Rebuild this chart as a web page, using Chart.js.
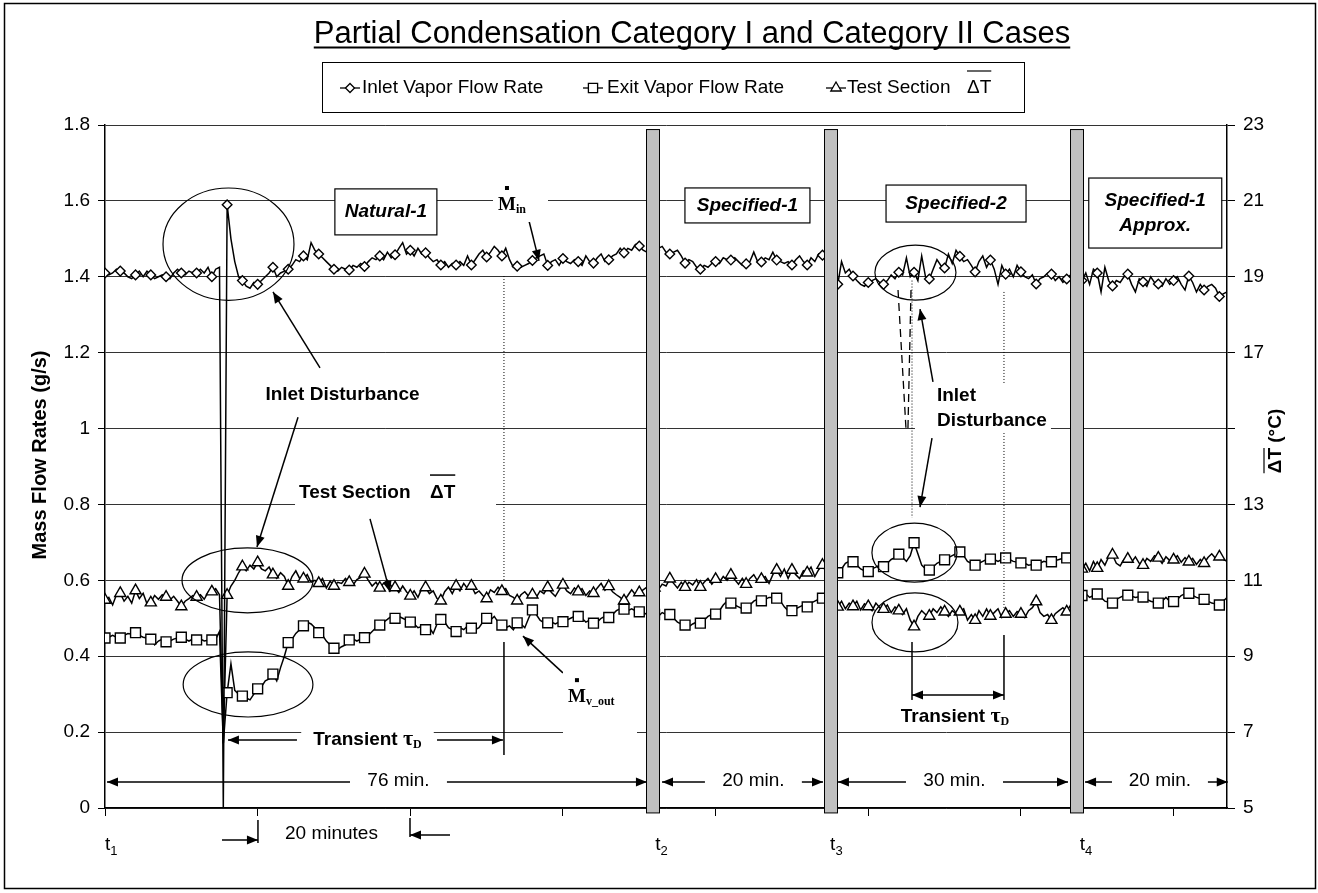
<!DOCTYPE html>
<html>
<head>
<meta charset="utf-8">
<title>Partial Condensation Category I and Category II Cases</title>
<script src="https://cdn.jsdelivr.net/npm/chart.js@4/dist/chart.umd.min.js"></script>
<style>
  html, body { margin: 0; padding: 0; background: #fff; }
  #wrap { width: 1318px; height: 893px; }
</style>
</head>
<body>
<div id="wrap"><canvas id="chart" width="1318" height="893"></canvas></div>
<script>
"use strict";

const SAMPLE_STEP = 0.5;   // minutes between readings
const MARK_EVERY = 4;      // a marker every 2 minutes

const chartTitle = "Partial Condensation Category I and Category II Cases";
const seriesNames = ["Inlet Vapor Flow Rate", "Exit Vapor Flow Rate", "Test Section"];
const flowTicks = ["0", "0.2", "0.4", "0.6", "0.8", "1", "1.2", "1.4", "1.6", "1.8"];
const deltaTTicks = ["5", "7", "9", "11", "13", "", "17", "19", "21", "23"];

// inlet vapor flow rate (g/s), one row per 2 minutes
const inletFlow = [
    1.41, 1.405, 1.41, 1.42,
    1.415, 1.41, 1.40, 1.395,
    1.405, 1.415, 1.40, 1.415,
    1.405, 1.395, 1.40, 1.405,
    1.40, 1.395, 1.41, 1.42,
    1.41, 1.405, 1.415, 1.41,
    1.41, 1.42, 1.41, 1.425,
    1.40, 1.42, 1.425, 0.0,
    1.59, 1.50, 1.44, 1.40,
    1.39, 1.375, 1.37, 1.385,
    1.38, 1.39, 1.40, 1.41,
    1.425, 1.40, 1.41, 1.415,
    1.42, 1.43, 1.445, 1.44,
    1.455, 1.445, 1.49, 1.47,
    1.46, 1.45, 1.44, 1.43,
    1.42, 1.415, 1.425, 1.42,
    1.418, 1.43, 1.425, 1.435,
    1.427, 1.44, 1.45, 1.445,
    1.455, 1.445, 1.465, 1.45,
    1.458, 1.475, 1.49, 1.46,
    1.47, 1.455, 1.475, 1.46,
    1.463, 1.45, 1.44, 1.445,
    1.431, 1.44, 1.425, 1.435,
    1.431, 1.44, 1.43, 1.455,
    1.431, 1.445, 1.46, 1.47,
    1.452, 1.465, 1.48, 1.47,
    1.455, 1.475, 1.445, 1.425,
    1.428, 1.425, 1.43, 1.435,
    1.443, 1.45, 1.455, 1.46,
    1.43, 1.44, 1.445, 1.43,
    1.448, 1.44, 1.435, 1.445,
    1.44, 1.43, 1.455, 1.44,
    1.436, 1.45, 1.46, 1.44,
    1.445, 1.455, 1.46, 1.475,
    1.463, 1.475, 1.47, 1.485,
    1.481, 1.47, 1.465, 1.47,
    1.47, 1.475, 1.48, 1.465,
    1.46, 1.465, 1.47, 1.455,
    1.436, 1.445, 1.44, 1.425,
    1.42, 1.43, 1.425, 1.435,
    1.44, 1.435, 1.45, 1.445,
    1.444, 1.45, 1.44, 1.43,
    1.434, 1.44, 1.465, 1.44,
    1.439, 1.45, 1.445, 1.465,
    1.444, 1.44, 1.435, 1.44,
    1.431, 1.445, 1.455, 1.44,
    1.431, 1.45, 1.44, 1.46,
    1.457, 1.445, 1.45, 1.44,
    1.38, 1.44, 1.41, 1.42,
    1.402, 1.39, 1.38, 1.375,
    1.385, 1.39, 1.395, 1.385,
    1.38, 1.39, 1.405, 1.395,
    1.412, 1.405, 1.45, 1.40,
    1.412, 1.39, 1.455, 1.40,
    1.394, 1.42, 1.445, 1.43,
    1.423, 1.46, 1.435, 1.47,
    1.454, 1.44, 1.445, 1.43,
    1.413, 1.44, 1.455, 1.425,
    1.444, 1.42, 1.38, 1.43,
    1.407, 1.42, 1.40, 1.43,
    1.413, 1.40, 1.395, 1.405,
    1.381, 1.395, 1.40, 1.41,
    1.407, 1.39, 1.40, 1.385,
    1.394, 1.405, 1.39, 1.40,
    1.39, 1.41, 1.38, 1.42,
    1.41, 1.36, 1.425, 1.39,
    1.376, 1.39, 1.385, 1.40,
    1.407, 1.38, 1.36, 1.395,
    1.387, 1.375, 1.40, 1.385,
    1.381, 1.375, 1.395, 1.38,
    1.39, 1.40, 1.38, 1.365,
    1.402, 1.385, 1.36, 1.38,
    1.365, 1.375, 1.38, 1.37,
    1.348, 1.355, 1.36
];

// exit vapor flow rate (g/s)
const exitFlow = [
    0.448, 0.45, 0.455, 0.45,
    0.448, 0.455, 0.46, 0.458,
    0.462, 0.455, 0.45, 0.448,
    0.445, 0.43, 0.44, 0.445,
    0.438, 0.44, 0.445, 0.448,
    0.45, 0.445, 0.44, 0.445,
    0.443, 0.445, 0.44, 0.442,
    0.443, 0.445, 0.465, 0.17,
    0.304, 0.38, 0.31, 0.30,
    0.295, 0.29, 0.285, 0.30,
    0.314, 0.32, 0.335, 0.34,
    0.353, 0.335, 0.37, 0.40,
    0.436, 0.445, 0.46, 0.47,
    0.48, 0.49, 0.485, 0.475,
    0.462, 0.455, 0.44, 0.43,
    0.421, 0.418, 0.425, 0.43,
    0.443, 0.445, 0.44, 0.445,
    0.449, 0.455, 0.465, 0.475,
    0.482, 0.49, 0.497, 0.505,
    0.50, 0.505, 0.50, 0.495,
    0.49, 0.485, 0.475, 0.478,
    0.47, 0.475, 0.46, 0.485,
    0.497, 0.49, 0.475, 0.47,
    0.465, 0.475, 0.47, 0.48,
    0.474, 0.47, 0.475, 0.49,
    0.50, 0.495, 0.505, 0.49,
    0.482, 0.475, 0.48, 0.47,
    0.488, 0.485, 0.475, 0.50,
    0.522, 0.51, 0.495, 0.488,
    0.488, 0.49, 0.485, 0.49,
    0.491, 0.495, 0.50, 0.505,
    0.505, 0.50, 0.49, 0.495,
    0.487, 0.49, 0.50, 0.505,
    0.502, 0.51, 0.52, 0.525,
    0.524, 0.52, 0.525, 0.52,
    0.517, 0.515, 0.51, 0.515,
    0.51, 0.505, 0.515, 0.51,
    0.51, 0.50, 0.49, 0.485,
    0.482, 0.478, 0.485, 0.49,
    0.487, 0.495, 0.505, 0.51,
    0.511, 0.52, 0.535, 0.545,
    0.54, 0.535, 0.53, 0.525,
    0.527, 0.535, 0.545, 0.55,
    0.546, 0.55, 0.555, 0.555,
    0.553, 0.545, 0.53, 0.52,
    0.52, 0.525, 0.53, 0.535,
    0.53, 0.54, 0.545, 0.55,
    0.553, 0.57, 0.59, 0.61,
    0.62, 0.63, 0.645, 0.65,
    0.649, 0.64, 0.63, 0.625,
    0.623, 0.63, 0.635, 0.64,
    0.636, 0.645, 0.655, 0.66,
    0.669, 0.66, 0.65, 0.665,
    0.699, 0.67, 0.64, 0.63,
    0.627, 0.635, 0.645, 0.65,
    0.654, 0.66, 0.665, 0.67,
    0.675, 0.665, 0.65, 0.645,
    0.64, 0.645, 0.65, 0.655,
    0.656, 0.655, 0.65, 0.655,
    0.659, 0.655, 0.65, 0.648,
    0.646, 0.645, 0.64, 0.642,
    0.64, 0.645, 0.65, 0.648,
    0.649, 0.652, 0.655, 0.658,
    0.659, 0.655, 0.60, 0.57,
    0.56, 0.565, 0.555, 0.56,
    0.564, 0.555, 0.545, 0.542,
    0.54, 0.55, 0.555, 0.56,
    0.561, 0.558, 0.555, 0.557,
    0.556, 0.55, 0.545, 0.542,
    0.54, 0.545, 0.555, 0.545,
    0.544, 0.55, 0.56, 0.565,
    0.566, 0.56, 0.555, 0.552,
    0.55, 0.545, 0.54, 0.538,
    0.535, 0.545, 0.555
];

// test section mean temperature difference (°C), right axis
const sectionDeltaT = [
    10.48, 10.55, 10.35, 10.62,
    10.66, 10.45, 10.58, 10.40,
    10.73, 10.52, 10.66, 10.38,
    10.41, 10.60, 10.50, 10.62,
    10.56, 10.48, 10.58, 10.45,
    10.31, 10.45, 10.52, 10.60,
    10.56, 10.62, 10.50, 10.68,
    10.70, 10.78, 10.62, 6.70,
    10.61, 10.85, 11.00, 11.20,
    11.36, 11.25, 11.40, 11.30,
    11.47, 11.30, 11.25, 11.35,
    11.15, 11.05, 11.20, 11.10,
    10.85, 11.10, 11.25, 11.05,
    11.04, 11.15, 10.95, 11.00,
    10.92, 11.05, 10.80, 10.98,
    10.85, 10.95, 10.92, 11.05,
    10.95, 10.88, 11.02, 11.08,
    11.17, 11.00, 10.85, 10.95,
    10.80, 10.92, 11.00, 10.85,
    10.81, 10.68, 10.85, 10.70,
    10.59, 10.72, 10.55, 10.78,
    10.81, 10.65, 10.72, 10.52,
    10.46, 10.70, 10.82, 10.65,
    10.85, 10.72, 10.92, 10.78,
    10.85, 10.65, 10.72, 10.60,
    10.52, 10.75, 10.68, 10.82,
    10.71, 10.78, 10.60, 10.55,
    10.46, 10.62, 10.70, 10.58,
    10.62, 10.55, 10.72, 10.65,
    10.81, 10.68, 10.58, 10.75,
    10.88, 10.72, 10.65, 10.80,
    10.70, 10.78, 10.60, 10.72,
    10.66, 10.80, 10.92, 10.74,
    10.84, 10.70, 10.62, 10.55,
    10.46, 10.60, 10.75, 10.62,
    10.68, 10.75, 10.82, 10.78,
    10.80, 10.75, 10.90, 10.85,
    11.04, 10.92, 10.80, 10.95,
    10.82, 10.95, 10.88, 11.02,
    10.82, 10.95, 11.05, 10.90,
    11.03, 10.95, 11.10, 11.00,
    11.14, 11.02, 10.90, 11.05,
    10.90, 11.05, 11.15, 10.98,
    11.03, 11.10, 10.92, 11.15,
    11.27, 11.10, 11.30, 11.05,
    11.27, 11.15, 11.05, 11.25,
    11.20, 11.35, 11.10, 11.28,
    11.40, 11.20, 10.80, 10.50,
    10.30, 10.45, 10.25, 10.40,
    10.31, 10.45, 10.22, 10.38,
    10.31, 10.20, 10.40, 10.28,
    10.24, 10.35, 10.15, 10.30,
    10.20, 10.10, 10.25, 9.95,
    9.78, 10.05, 10.20, 10.10,
    10.06, 10.25, 10.15, 10.30,
    10.17, 10.05, 10.20, 10.12,
    10.17, 10.25, 9.95, 10.10,
    9.95, 10.20, 10.05, 10.25,
    10.06, 10.15, 10.25, 10.02,
    10.11, 10.20, 10.05, 10.18,
    10.11, 10.02, 10.20, 10.28,
    10.44, 10.15, 10.05, 10.10,
    9.95, 10.12, 10.20, 10.28,
    10.17, 10.35, 10.80, 11.20,
    11.30, 11.45, 11.25, 11.50,
    11.32, 11.55, 11.40, 11.62,
    11.67, 11.45, 11.38, 11.55,
    11.56, 11.48, 11.62, 11.45,
    11.40, 11.58, 11.50, 11.65,
    11.59, 11.45, 11.62, 11.52,
    11.54, 11.65, 11.48, 11.60,
    11.49, 11.58, 11.42, 11.55,
    11.45, 11.60, 11.70, 11.58,
    11.62, 11.55, 11.50
];

// section changes t2, t3, t4 (minutes) and time labels below the axis
const dividers = [71.8, 95.1, 127.35];
const timeMarks = [["1", 0], ["2", 72.1], ["3", 95.0], ["4", 127.7]];

// duration arrows: [text, left head, left gap, right gap, right head] in minutes
const durations = [
    ["76 min.", 0.26, 32.1, 44.8, 71.0],
    ["20 min.", 72.98, 78.6, 91.3, 94.07],
    ["30 min.", 96.03, 104.94, 117.65, 126.17],
    ["20 min.", 128.4, 131.93, 144.5, 147.1]
];

const caseBoxes = [
    { lines: ["Natural-1"], m: 36.8, v: 1.571, w: 102, h: 46 },
    { lines: ["Specified-1"], m: 84.17, v: 1.588, w: 125, h: 35 },
    { lines: ["Specified-2"], m: 111.5, v: 1.593, w: 140, h: 37 },
    { lines: ["Specified-1", "Approx."], m: 137.6, v: 1.568, w: 133, h: 70 }
];

// ellipses round the disturbances: centre (min, g/s) and radii (min, g/s)
const rings = [
    [16.18, 1.486, 8.58, 0.148],
    [18.67, 0.600, 8.58, 0.0857],
    [18.74, 0.3255, 8.5, 0.0857],
    [106.18, 1.411, 5.31, 0.0725],
    [106.05, 0.673, 5.57, 0.0777],
    [106.12, 0.489, 5.63, 0.0777]
];

// arrows: from (min, g/s) to head (min, g/s)
const pointers = [
    [28.17, 1.16, 22.01, 1.36],
    [25.29, 1.03, 19.91, 0.688],
    [34.72, 0.762, 37.34, 0.569],
    [55.42, 1.558, 56.86, 1.442],
    [60.0, 0.356, 54.76, 0.453],
    [108.48, 1.123, 106.78, 1.315],
    [108.35, 0.975, 106.78, 0.793]
];

const dottedGuides = [[52.27, 1.402, 0.596], [105.73, 1.39, 0.765], [117.78, 1.36, 0.527]];
const dashedGuides = [[103.9, 1.365, 104.94, 1.0], [105.6, 1.365, 105.2, 1.0]];

const FONT = '"Liberation Sans", Arial, Helvetica, sans-serif';
const SERIF = '"Liberation Serif", "Times New Roman", serif';

const minutes = inletFlow.map((_, i) => i * SAMPLE_STEP);
const toPoints = arr => arr.map((v, i) => ({ x: minutes[i], y: v }));
const marker = r => c => (c.dataIndex % MARK_EVERY === 0 ? r : 0);

function headAt(ctx, x1, y1, x2, y2) {
    const a = Math.atan2(y2 - y1, x2 - x1);
    const len = 11, half = 4.5;
    const bx = x2 - len * Math.cos(a), by = y2 - len * Math.sin(a);
    ctx.beginPath();
    ctx.moveTo(x2, y2);
    ctx.lineTo(bx + half * Math.sin(a), by - half * Math.cos(a));
    ctx.lineTo(bx - half * Math.sin(a), by + half * Math.cos(a));
    ctx.closePath();
    ctx.fill();
}

function segment(ctx, x1, y1, x2, y2, dash) {
    ctx.save();
    if (dash) ctx.setLineDash(dash);
    ctx.beginPath();
    ctx.moveTo(x1, y1);
    ctx.lineTo(x2, y2);
    ctx.stroke();
    ctx.restore();
}

function arrow(ctx, x1, y1, x2, y2, both) {
    segment(ctx, x1, y1, x2, y2);
    headAt(ctx, x1, y1, x2, y2);
    if (both) headAt(ctx, x2, y2, x1, y1);
}

function drawMark(ctx, style, x, y, r) {
    ctx.beginPath();
    if (style === "rectRot") {
        ctx.moveTo(x - r, y); ctx.lineTo(x, y - r); ctx.lineTo(x + r, y); ctx.lineTo(x, y + r);
    } else if (style === "rect") {
        const s = r * Math.SQRT1_2;
        ctx.rect(x - s, y - s, 2 * s, 2 * s);
    } else {
        ctx.moveTo(x, y - r); ctx.lineTo(x + r * 0.866, y + r * 0.5); ctx.lineTo(x - r * 0.866, y + r * 0.5);
    }
    ctx.closePath();
    ctx.fillStyle = "#fff";
    ctx.fill();
    ctx.stroke();
    ctx.fillStyle = "#000";
}

function whiteBox(ctx, x, y, w, h) {
    ctx.save();
    ctx.fillStyle = "#fff";
    ctx.fillRect(x, y, w, h);
    ctx.restore();
}

// "Transient τD" label centred on (cx, cy)
function transientLabel(ctx, cx, cy) {
    ctx.save();
    ctx.textBaseline = "middle";
    ctx.textAlign = "left";
    ctx.font = `bold 19px ${FONT}`;
    const w1 = ctx.measureText("Transient ").width;
    ctx.font = `bold 22px ${SERIF}`;
    const w2 = ctx.measureText("τ").width;
    ctx.font = `bold 12px ${SERIF}`;
    const w3 = ctx.measureText("D").width;
    let x = cx - (w1 + w2 + w3) / 2;
    whiteBox(ctx, x - 12, cy - 17, w1 + w2 + w3 + 24, 32);
    ctx.font = `bold 19px ${FONT}`;
    ctx.fillText("Transient ", x, cy);
    x += w1;
    ctx.font = `bold 22px ${SERIF}`;
    ctx.fillText("τ", x, cy - 1);
    x += w2;
    ctx.font = `bold 12px ${SERIF}`;
    ctx.fillText("D", x, cy + 5);
    ctx.restore();
}

// mass flow symbol: M with a dot over it and a subscript
function massLabel(ctx, x, base, sub, boxW, boxTop, boxBottom) {
    ctx.save();
    whiteBox(ctx, x - 5, base - boxTop, boxW, boxTop + boxBottom);
    ctx.textAlign = "left";
    ctx.textBaseline = "alphabetic";
    ctx.font = `bold 19px ${SERIF}`;
    const w = ctx.measureText("M").width;
    ctx.fillText("M", x, base);
    ctx.fillRect(x + w / 2 - 2, base - 24, 4, 4);
    ctx.font = `bold 12px ${SERIF}`;
    ctx.fillText(sub, x + w, base + 3);
    ctx.restore();
}

const annotations = {
    id: "annotations",
    afterDatasetsDraw(chart) {
        const ctx = chart.ctx;
        const X = m => chart.scales.x.getPixelForValue(m);
        const Y = v => chart.scales.y.getPixelForValue(v);
        ctx.save();
        ctx.strokeStyle = "#000";
        ctx.fillStyle = "#000";

        // guide lines
        ctx.lineWidth = 1;
        dottedGuides.forEach(([m, v1, v2]) => segment(ctx, X(m), Y(v1), X(m), Y(v2), [1, 2]));
        ctx.lineWidth = 1.3;
        dashedGuides.forEach(([m1, v1, m2, v2]) => segment(ctx, X(m1), Y(v1), X(m2), Y(v2), [8, 5]));

        // ellipses
        ctx.lineWidth = 1.2;
        rings.forEach(([m, v, rm, rv]) => {
            ctx.beginPath();
            ctx.ellipse(X(m), Y(v), X(m + rm) - X(m), Y(v - rv) - Y(v), 0, 0, Math.PI * 2);
            ctx.stroke();
        });

        // section dividers
        ctx.lineWidth = 1;
        dividers.forEach(m => {
            const x = Math.round(X(m)) - 6.5, top = Y(1.788), bottom = Y(-0.013);
            ctx.fillStyle = "#c0c0c0";
            ctx.fillRect(x, top, 13, bottom - top);
            ctx.strokeRect(x, top, 13, bottom - top);
        });
        ctx.fillStyle = "#000";

        // pointer arrows
        ctx.lineWidth = 1.5;
        pointers.forEach(([m1, v1, m2, v2]) => arrow(ctx, X(m1), Y(v1), X(m2), Y(v2)));

        // duration arrows along the bottom
        ctx.font = `19px ${FONT}`;
        ctx.textAlign = "center";
        ctx.textBaseline = "middle";
        const yd = Y(0.0685);
        durations.forEach(([text, a, b, c, d]) => {
            arrow(ctx, X(b), yd, X(a), yd);
            arrow(ctx, X(c), yd, X(d), yd);
            ctx.fillText(text, (X(b) + X(c)) / 2, yd - 1);
        });

        // transient spans
        const yl = Y(0.179);
        arrow(ctx, X(25.15), yl, X(16.11), yl);
        arrow(ctx, X(43.5), yl, X(52.14), yl);
        segment(ctx, X(52.27), Y(0.4375), X(52.27), Y(0.1397));
        transientLabel(ctx, X(34.39), yl);

        const yr = Y(0.298);
        arrow(ctx, X(105.73), yr, X(117.78), yr, true);
        segment(ctx, X(105.73), Y(0.4375), X(105.73), Y(0.279));
        segment(ctx, X(117.78), Y(0.456), X(117.78), Y(0.279));
        transientLabel(ctx, X(111.36), Y(0.240));

        // text labels
        ctx.font = `bold 19px ${FONT}`;
        ctx.textAlign = "center";
        ctx.fillText("Inlet Disturbance", X(31.11), Y(1.088));

        ctx.textAlign = "left";
        const ix = X(109.0);
        whiteBox(ctx, ix - 22, Y(1.086) - 12, 136, Y(1.02) - Y(1.086) + 24);
        ctx.fillText("Inlet", ix, Y(1.086));
        ctx.fillText("Disturbance", ix, Y(1.02));

        const tx = X(25.42), ty = Y(0.830);
        whiteBox(ctx, tx - 4, ty - 16, 201, 34);
        ctx.fillText("Test Section", tx, ty);
        const dx = X(42.58);
        ctx.fillText("ΔT", dx, ty);
        const dw = ctx.measureText("ΔT").width;
        segment(ctx, dx, ty - 18, dx + dw, ty - 18);

        massLabel(ctx, X(51.49), Y(1.576), "in", 55, 25, 12);
        massLabel(ctx, X(60.66), Y(0.279), "v_out", 74, 40, 38);

        // case boxes
        ctx.lineWidth = 1.2;
        ctx.font = `italic bold 19px ${FONT}`;
        ctx.textAlign = "center";
        caseBoxes.forEach(b => {
            const cx = X(b.m), cy = Y(b.v);
            ctx.fillStyle = "#fff";
            ctx.fillRect(cx - b.w / 2, cy - b.h / 2, b.w, b.h);
            ctx.strokeRect(cx - b.w / 2, cy - b.h / 2, b.w, b.h);
            ctx.fillStyle = "#000";
            const step = 25;
            b.lines.forEach((t, i) => ctx.fillText(t, cx, cy + (i - (b.lines.length - 1) / 2) * step));
        });

        // labels under the time axis
        ctx.textAlign = "left";
        ctx.textBaseline = "alphabetic";
        const tb = Y(-0.1107);
        timeMarks.forEach(([n, m]) => {
            const x = X(m);
            ctx.font = `19px ${FONT}`;
            ctx.fillText("t", x, tb);
            const w = ctx.measureText("t").width;
            ctx.font = `13px ${FONT}`;
            ctx.fillText(n, x + w, tb + 5);
        });

        ctx.font = `19px ${FONT}`;
        ctx.textAlign = "center";
        ctx.textBaseline = "middle";
        ctx.fillText("20 minutes", X(29.67), Y(-0.0685));
        ctx.lineWidth = 1.5;
        arrow(ctx, X(15.33), Y(-0.0843), X(20.04), Y(-0.0843));
        segment(ctx, X(20.04), Y(-0.0316), X(20.04), Y(-0.0922));
        arrow(ctx, X(45.2), Y(-0.0712), X(39.96), Y(-0.0712));
        segment(ctx, X(39.96), Y(-0.0264), X(39.96), Y(-0.0764));

        ctx.restore();
    },
    afterDraw(chart) {
        const ctx = chart.ctx;
        ctx.save();
        ctx.strokeStyle = "#000";
        ctx.fillStyle = "#000";

        // outer frame
        ctx.lineWidth = 1.5;
        ctx.strokeRect(4.5, 3.5, 1311, 885);

        // title, underlined
        ctx.font = `31px ${FONT}`;
        ctx.textAlign = "left";
        ctx.textBaseline = "alphabetic";
        const tw = ctx.measureText(chartTitle).width;
        const tx = 692 - tw / 2;
        ctx.fillText(chartTitle, tx, 43);
        ctx.lineWidth = 2;
        segment(ctx, tx, 47.5, tx + tw, 47.5);

        // legend
        ctx.lineWidth = 1;
        ctx.strokeRect(322.5, 62.5, 702, 50);
        const legend = [["rectRot", 4.5, 340, 362], ["rect", 6.5, 583, 607], ["triangle", 6, 826, 847]];
        ctx.font = `19px ${FONT}`;
        ctx.textBaseline = "middle";
        legend.forEach(([style, r, sx, tx2], i) => {
            ctx.lineWidth = 1.3;
            segment(ctx, sx, 88, sx + 20, 88);
            drawMark(ctx, style, sx + 10, 88, r);
            ctx.fillText(seriesNames[i], tx2, 88);
        });
        ctx.fillText("ΔT", 967, 88);
        ctx.lineWidth = 1.2;
        segment(ctx, 967, 71, 967 + ctx.measureText("ΔT").width, 71);

        // axis titles
        ctx.textAlign = "center";
        ctx.font = `bold 20px ${FONT}`;
        ctx.save();
        ctx.translate(40, 455);
        ctx.rotate(-Math.PI / 2);
        ctx.fillText("Mass Flow Rates (g/s)", 0, 0);
        ctx.restore();

        ctx.font = `bold 19px ${FONT}`;
        ctx.save();
        ctx.translate(1276, 441);
        ctx.rotate(-Math.PI / 2);
        const full = ctx.measureText("ΔT (°C)").width;
        const part = ctx.measureText("ΔT").width;
        ctx.textAlign = "left";
        ctx.fillText("ΔT (°C)", -full / 2, 0);
        ctx.lineWidth = 1.2;
        segment(ctx, -full / 2, -12, -full / 2 + part, -12);
        ctx.restore();

        ctx.restore();
    }
};

Chart.defaults.font.family = FONT;
Chart.defaults.color = "#000";

const lineStyle = {
    borderColor: "#000",
    borderWidth: 1.5,
    pointBackgroundColor: "#fff",
    pointBorderColor: "#000",
    pointBorderWidth: 1.4,
    pointHoverRadius: 0,
    tension: 0,
    fill: false
};

new Chart(document.getElementById("chart"), {
    type: "line",
    data: {
        datasets: [
            { ...lineStyle, label: seriesNames[0], data: toPoints(inletFlow), yAxisID: "y", pointStyle: "rectRot", pointRadius: marker(4.8) },
            { ...lineStyle, label: seriesNames[1], data: toPoints(exitFlow), yAxisID: "y", pointStyle: "rect", pointRadius: marker(7) },
            { ...lineStyle, label: seriesNames[2], data: toPoints(sectionDeltaT), yAxisID: "y2", pointStyle: "triangle", pointRadius: marker(6.4) }
        ]
    },
    options: {
        responsive: false,
        animation: false,
        events: [],
        layout: { padding: { top: 125, left: 0, right: 0, bottom: 0 } },
        plugins: { legend: { display: false }, title: { display: false }, tooltip: { enabled: false } },
        scales: {
            x: {
                type: "linear",
                min: 0,
                max: 147,
                afterFit: s => { s.height = 85; },
                border: { color: "#000", width: 1.5 },
                grid: { drawOnChartArea: false, tickLength: 8, tickColor: "#000" },
                ticks: { stepSize: 20, includeBounds: false, autoSkip: false, callback: () => "" }
            },
            y: {
                position: "left",
                min: 0,
                max: 1.8,
                afterFit: s => { s.width = 105; },
                border: { color: "#000", width: 1.5 },
                grid: { color: "#333", lineWidth: 1, tickLength: 7, tickColor: "#000" },
                ticks: { stepSize: 0.2, padding: 8, font: { size: 19 }, callback: v => flowTicks[Math.round(v / 0.2)] }
            },
            y2: {
                position: "right",
                min: 5,
                max: 23,
                afterFit: s => { s.width = 91; },
                border: { color: "#000", width: 1.5 },
                grid: { drawOnChartArea: false, tickLength: 8, tickColor: "#000" },
                ticks: { stepSize: 2, padding: 8, font: { size: 19 }, callback: v => deltaTTicks[Math.round((v - 5) / 2)] }
            }
        }
    },
    plugins: [annotations]
});
</script>
</body>
</html>
